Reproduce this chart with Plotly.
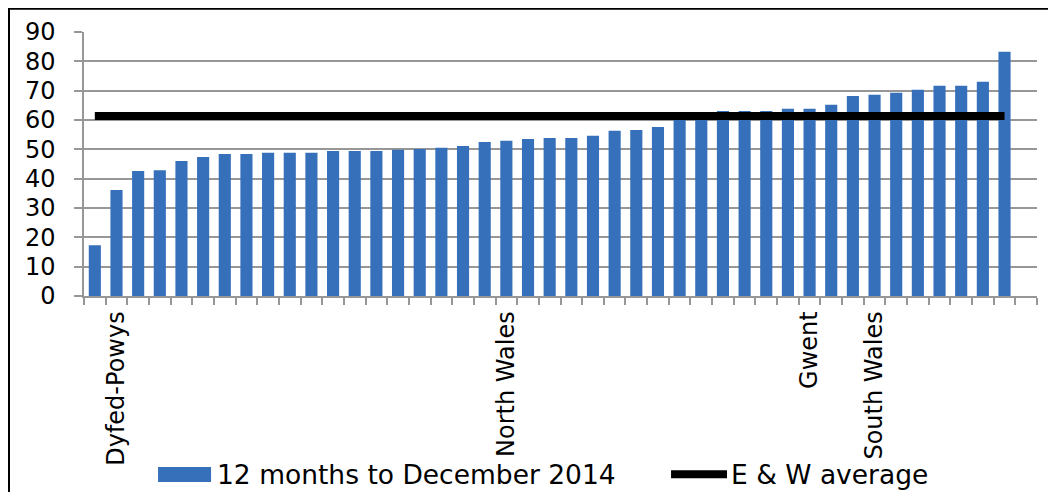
import plotly.graph_objects as go

# ---- data ----
values_2014 = [17.3, 36.1, 42.6, 42.9, 46.0, 47.4, 48.4, 48.4, 48.8, 48.8,
               48.8, 49.4, 49.4, 49.4, 49.9, 50.1, 50.5, 51.1, 52.5, 52.9,
               53.5, 53.9, 53.9, 54.6, 56.3, 56.6, 57.6, 61.0, 61.3, 63.1,
               63.1, 63.1, 63.8, 63.8, 65.2, 68.2, 68.6, 69.3, 70.3, 71.7,
               71.7, 73.0, 83.3]
ew_average = [61.4] * len(values_2014)
n_categories = 44  # one empty slot at the right end
tick_labels = ["Dyfed-Powys", "North Wales", "Gwent", "South Wales"]
tick_positions = [1, 19, 33, 36]
y_ticks = [0, 10, 20, 30, 40, 50, 60, 70, 80, 90]
series_names = ["12 months to December 2014", "E & W average"]

x_idx = list(range(len(values_2014)))

FONT = "DejaVu Sans"
GRID = "#979797"
BAR = "#3670bb"

fig = go.Figure()
fig.add_trace(go.Bar(
    x=x_idx, y=values_2014, name=series_names[0],
    width=0.56, marker=dict(color=BAR, line=dict(width=0)),
))
fig.add_trace(go.Scatter(
    x=x_idx, y=ew_average, name=series_names[1], mode="lines",
    line=dict(color="black", width=8),
))

# legend drawn as swatches + real text below the plot
legend_shapes = [
    dict(type="rect", xref="paper", yref="paper",
         x0=0.0777, x1=0.1333, y0=-0.7042, y1=-0.6473,
         fillcolor=BAR, line=dict(width=0)),
    dict(type="line", xref="paper", yref="paper",
         x0=0.616, x1=0.6747, y0=-0.675, y1=-0.675,
         line=dict(color="black", width=8)),
]
legend_texts = [
    dict(text=series_names[0], x=0.1375, y=-0.676),
    dict(text=series_names[1], x=0.677, y=-0.676),
]
annotations = [dict(xref="paper", yref="paper", xanchor="left", yanchor="middle",
                    showarrow=False, font=dict(size=26.5, family=FONT, color="black"),
                    **t) for t in legend_texts]

border = dict(type="rect", xref="paper", yref="paper",
              x0=-0.0787, x1=1.05, y0=-0.8, y1=1.0884,
              line=dict(color="black", width=2), fillcolor="rgba(0,0,0,0)",
              layer="above")

fig.update_layout(
    width=1048, height=484,
    margin=dict(l=76, r=19, t=24, b=196, pad=0, autoexpand=False),
    paper_bgcolor="white", plot_bgcolor="white",
    font=dict(family=FONT, size=24, color="black"),
    showlegend=False,
    xaxis=dict(
        range=[-0.5, n_categories - 0.5], tickmode="array",
        tickvals=tick_positions, ticktext=tick_labels, tickangle=-90,
        ticks="", showgrid=False, zeroline=False, automargin=False,
        showline=True, linecolor=GRID, linewidth=1.5,
        tickfont=dict(size=24, family=FONT), ticklabelstandoff=4,
        minor=dict(ticks="outside", ticklen=7, tickwidth=1.5, tickcolor=GRID,
                   tick0=-0.5, dtick=1, showgrid=False),
    ),
    yaxis=dict(
        range=[0, 90], tickmode="array", tickvals=y_ticks,
        ticks="outside", ticklen=8, tickwidth=1.5, tickcolor=GRID,
        showgrid=True, gridcolor=GRID, gridwidth=1.5, zeroline=False,
        showline=True, linecolor=GRID, linewidth=1.5, automargin=False,
        tickfont=dict(size=24, family=FONT), ticklabelstandoff=14,
    ),
    bargap=0.44,
    shapes=legend_shapes + [border],
    annotations=annotations,
)

fig.write_html("out.html")
